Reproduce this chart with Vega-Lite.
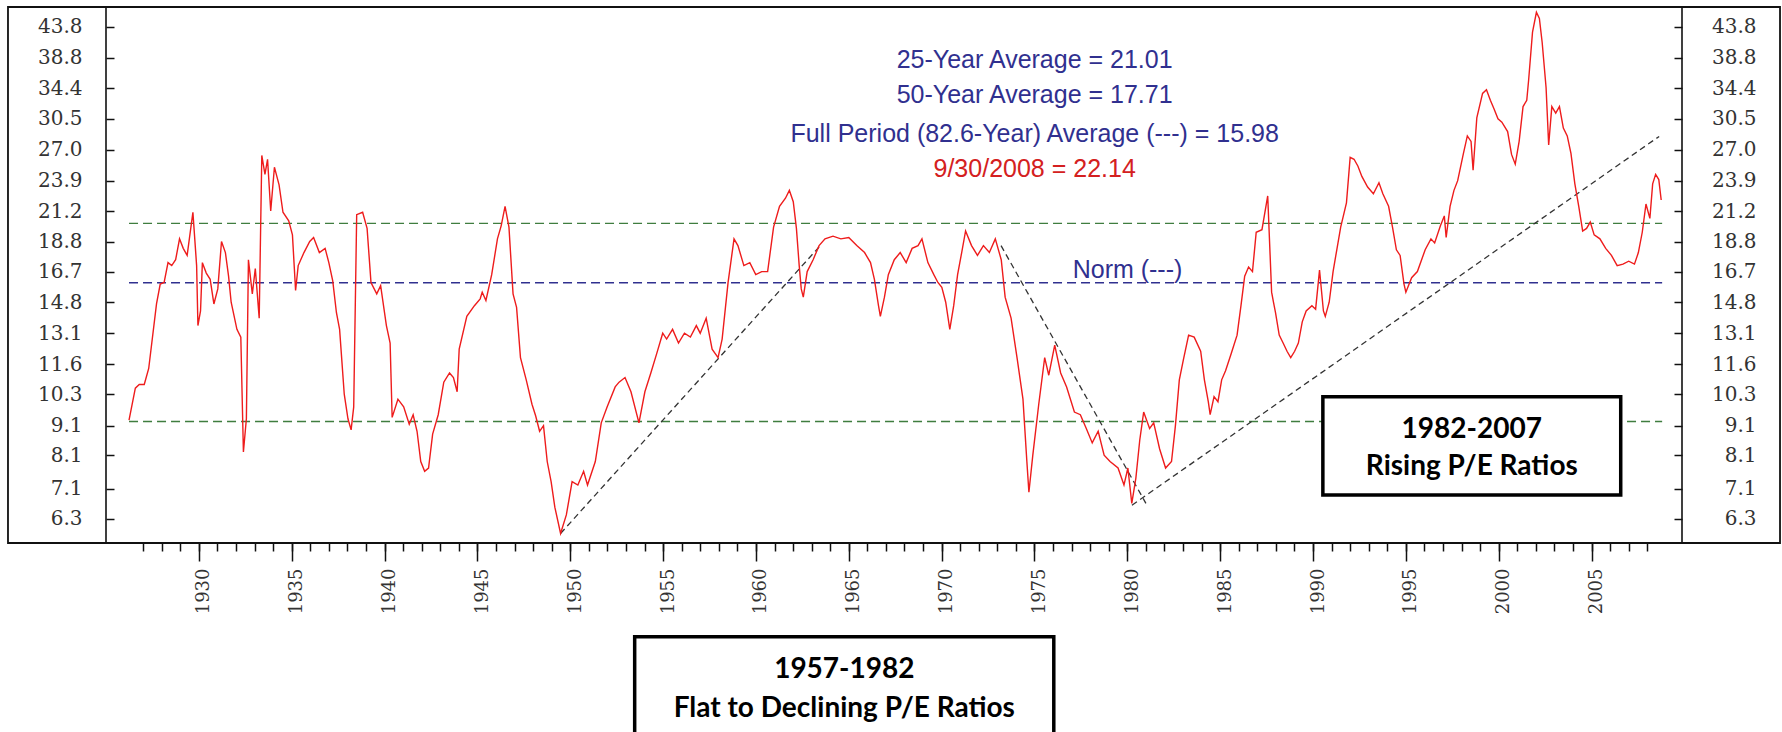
{
  "$schema": "https://vega.github.io/schema/vega-lite/v6.json",
  "width": 1576,
  "height": 536,
  "autosize": "none",
  "padding": {"left": 106, "top": 7, "right": 100, "bottom": 189},
  "background": "white",
  "config": {"view": {"stroke": "#111", "strokeWidth": 1.6}},
  "datasets": {
    "one": [{}],
    "pe": [
      {"year":1926.24,"pe":9.3},{"year":1926.58,"pe":10.55},{"year":1926.79,"pe":10.7},{"year":1927.06,"pe":10.7},{"year":1927.3,"pe":11.4},{"year":1927.72,"pe":14.7},{"year":1927.92,"pe":15.9},{"year":1928.13,"pe":16.0},{"year":1928.34,"pe":17.3},{"year":1928.54,"pe":17.1},{"year":1928.75,"pe":17.5},{"year":1928.96,"pe":19.0},{"year":1929.16,"pe":18.3},{"year":1929.37,"pe":17.8},{"year":1929.68,"pe":21.1},{"year":1929.88,"pe":17.1},{"year":1929.95,"pe":13.5},{"year":1930.09,"pe":14.3},{"year":1930.19,"pe":17.3},{"year":1930.4,"pe":16.6},{"year":1930.61,"pe":16.2},{"year":1930.81,"pe":14.7},{"year":1931.02,"pe":15.6},{"year":1931.22,"pe":18.8},{"year":1931.43,"pe":18.0},{"year":1931.6,"pe":16.4},{"year":1931.74,"pe":14.8},{"year":1932.05,"pe":13.3},{"year":1932.26,"pe":12.9},{"year":1932.4,"pe":8.2},{"year":1932.56,"pe":9.35},{"year":1932.67,"pe":17.5},{"year":1932.88,"pe":15.3},{"year":1933.04,"pe":16.9},{"year":1933.25,"pe":13.9},{"year":1933.39,"pe":26.4},{"year":1933.56,"pe":24.5},{"year":1933.7,"pe":26.0},{"year":1933.87,"pe":21.2},{"year":1934.07,"pe":25.2},{"year":1934.32,"pe":23.5},{"year":1934.53,"pe":21.1},{"year":1934.84,"pe":20.4},{"year":1935.04,"pe":19.3},{"year":1935.21,"pe":15.5},{"year":1935.35,"pe":17.1},{"year":1935.66,"pe":18.0},{"year":1935.97,"pe":18.8},{"year":1936.18,"pe":19.1},{"year":1936.49,"pe":18.0},{"year":1936.8,"pe":18.3},{"year":1937.0,"pe":17.3},{"year":1937.21,"pe":16.1},{"year":1937.41,"pe":14.2},{"year":1937.58,"pe":13.3},{"year":1937.83,"pe":10.3},{"year":1938.03,"pe":9.35},{"year":1938.2,"pe":8.95},{"year":1938.34,"pe":9.8},{"year":1938.5,"pe":20.9},{"year":1938.82,"pe":21.1},{"year":1939.06,"pe":19.8},{"year":1939.27,"pe":16.0},{"year":1939.58,"pe":15.3},{"year":1939.79,"pe":15.8},{"year":1940.1,"pe":13.5},{"year":1940.3,"pe":12.6},{"year":1940.41,"pe":9.4},{"year":1940.72,"pe":10.1},{"year":1941.03,"pe":9.8},{"year":1941.33,"pe":9.15},{"year":1941.54,"pe":9.5},{"year":1941.75,"pe":8.9},{"year":1941.95,"pe":7.9},{"year":1942.16,"pe":7.6},{"year":1942.37,"pe":7.7},{"year":1942.59,"pe":8.8},{"year":1942.89,"pe":9.5},{"year":1943.19,"pe":10.8},{"year":1943.5,"pe":11.2},{"year":1943.71,"pe":11.0},{"year":1943.91,"pe":10.4},{"year":1944.02,"pe":12.3},{"year":1944.43,"pe":14.0},{"year":1944.84,"pe":14.6},{"year":1945.15,"pe":15.0},{"year":1945.26,"pe":15.4},{"year":1945.46,"pe":14.9},{"year":1945.77,"pe":16.5},{"year":1946.08,"pe":19.0},{"year":1946.28,"pe":20.0},{"year":1946.49,"pe":21.6},{"year":1946.7,"pe":19.9},{"year":1946.92,"pe":15.3},{"year":1947.11,"pe":14.5},{"year":1947.32,"pe":11.9},{"year":1947.63,"pe":10.9},{"year":1947.94,"pe":9.9},{"year":1948.14,"pe":9.45},{"year":1948.35,"pe":8.9},{"year":1948.56,"pe":9.1},{"year":1948.76,"pe":7.9},{"year":1948.97,"pe":7.3},{"year":1949.17,"pe":6.6},{"year":1949.48,"pe":5.95},{"year":1949.79,"pe":6.4},{"year":1950.1,"pe":7.3},{"year":1950.41,"pe":7.2},{"year":1950.72,"pe":7.6},{"year":1950.93,"pe":7.2},{"year":1951.35,"pe":7.9},{"year":1951.67,"pe":9.2},{"year":1951.99,"pe":9.8},{"year":1952.42,"pe":10.6},{"year":1952.63,"pe":10.8},{"year":1952.95,"pe":11.0},{"year":1953.27,"pe":10.4},{"year":1953.7,"pe":9.2},{"year":1954.02,"pe":10.4},{"year":1954.34,"pe":11.2},{"year":1954.66,"pe":12.1},{"year":1954.98,"pe":13.1},{"year":1955.19,"pe":12.8},{"year":1955.51,"pe":13.3},{"year":1955.83,"pe":12.6},{"year":1956.15,"pe":13.1},{"year":1956.47,"pe":12.9},{"year":1956.79,"pe":13.5},{"year":1957.0,"pe":13.1},{"year":1957.32,"pe":13.9},{"year":1957.64,"pe":12.3},{"year":1957.96,"pe":11.9},{"year":1958.18,"pe":12.8},{"year":1958.5,"pe":16.0},{"year":1958.82,"pe":19.0},{"year":1959.03,"pe":18.5},{"year":1959.35,"pe":17.1},{"year":1959.67,"pe":17.3},{"year":1959.99,"pe":16.5},{"year":1960.31,"pe":16.7},{"year":1960.63,"pe":16.7},{"year":1960.95,"pe":19.9},{"year":1961.27,"pe":21.6},{"year":1961.59,"pe":22.3},{"year":1961.8,"pe":23.0},{"year":1962.01,"pe":22.0},{"year":1962.18,"pe":19.8},{"year":1962.33,"pe":17.1},{"year":1962.44,"pe":15.6},{"year":1962.55,"pe":15.1},{"year":1962.76,"pe":16.7},{"year":1963.08,"pe":17.5},{"year":1963.4,"pe":18.5},{"year":1963.72,"pe":19.0},{"year":1964.15,"pe":19.2},{"year":1964.57,"pe":19.0},{"year":1965.0,"pe":19.1},{"year":1965.43,"pe":18.5},{"year":1965.85,"pe":18.0},{"year":1966.17,"pe":17.3},{"year":1966.38,"pe":16.2},{"year":1966.6,"pe":14.6},{"year":1966.7,"pe":14.0},{"year":1966.92,"pe":15.1},{"year":1967.13,"pe":16.5},{"year":1967.45,"pe":17.5},{"year":1967.77,"pe":18.0},{"year":1968.09,"pe":17.3},{"year":1968.41,"pe":18.3},{"year":1968.73,"pe":18.5},{"year":1968.94,"pe":19.0},{"year":1969.26,"pe":17.3},{"year":1969.58,"pe":16.5},{"year":1969.8,"pe":16.0},{"year":1970.01,"pe":15.7},{"year":1970.22,"pe":14.8},{"year":1970.44,"pe":13.3},{"year":1970.65,"pe":14.6},{"year":1970.86,"pe":16.5},{"year":1971.08,"pe":18.0},{"year":1971.29,"pe":19.6},{"year":1971.61,"pe":18.5},{"year":1971.93,"pe":17.8},{"year":1972.25,"pe":18.5},{"year":1972.57,"pe":18.0},{"year":1972.89,"pe":19.0},{"year":1973.21,"pe":17.5},{"year":1973.42,"pe":15.1},{"year":1973.74,"pe":13.9},{"year":1974.06,"pe":11.9},{"year":1974.38,"pe":10.1},{"year":1974.59,"pe":7.9},{"year":1974.7,"pe":7.0},{"year":1974.91,"pe":8.1},{"year":1975.23,"pe":9.9},{"year":1975.55,"pe":11.9},{"year":1975.77,"pe":11.1},{"year":1976.09,"pe":12.5},{"year":1976.41,"pe":11.2},{"year":1976.73,"pe":10.6},{"year":1977.15,"pe":9.6},{"year":1977.47,"pe":9.5},{"year":1977.79,"pe":9.0},{"year":1978.11,"pe":8.5},{"year":1978.43,"pe":8.9},{"year":1978.75,"pe":8.1},{"year":1979.07,"pe":7.9},{"year":1979.5,"pe":7.7},{"year":1979.82,"pe":7.2},{"year":1980.03,"pe":7.7},{"year":1980.24,"pe":6.7},{"year":1980.46,"pe":7.4},{"year":1980.67,"pe":8.6},{"year":1980.88,"pe":9.6},{"year":1981.2,"pe":9.0},{"year":1981.42,"pe":9.2},{"year":1981.74,"pe":8.3},{"year":1982.06,"pe":7.7},{"year":1982.38,"pe":7.9},{"year":1982.59,"pe":9.1},{"year":1982.8,"pe":10.9},{"year":1983.02,"pe":11.8},{"year":1983.3,"pe":13.0},{"year":1983.6,"pe":12.9},{"year":1983.95,"pe":12.2},{"year":1984.15,"pe":10.9},{"year":1984.36,"pe":10.0},{"year":1984.46,"pe":9.5},{"year":1984.67,"pe":10.2},{"year":1984.88,"pe":10.0},{"year":1985.08,"pe":10.9},{"year":1985.29,"pe":11.3},{"year":1985.6,"pe":12.1},{"year":1985.91,"pe":13.0},{"year":1986.12,"pe":14.6},{"year":1986.32,"pe":16.4},{"year":1986.53,"pe":17.0},{"year":1986.74,"pe":16.7},{"year":1986.94,"pe":19.5},{"year":1987.25,"pe":19.7},{"year":1987.56,"pe":22.5},{"year":1987.77,"pe":15.4},{"year":1987.87,"pe":14.8},{"year":1987.98,"pe":14.2},{"year":1988.18,"pe":13.0},{"year":1988.39,"pe":12.6},{"year":1988.6,"pe":12.2},{"year":1988.8,"pe":11.9},{"year":1989.01,"pe":12.2},{"year":1989.21,"pe":12.6},{"year":1989.42,"pe":13.7},{"year":1989.63,"pe":14.3},{"year":1989.94,"pe":14.6},{"year":1990.14,"pe":14.4},{"year":1990.35,"pe":16.8},{"year":1990.56,"pe":14.3},{"year":1990.66,"pe":14.0},{"year":1990.87,"pe":14.8},{"year":1991.08,"pe":16.7},{"year":1991.28,"pe":18.2},{"year":1991.49,"pe":19.9},{"year":1991.8,"pe":21.9},{"year":1992.0,"pe":26.2},{"year":1992.21,"pe":26.0},{"year":1992.42,"pe":25.3},{"year":1992.63,"pe":24.3},{"year":1992.94,"pe":23.3},{"year":1993.25,"pe":22.7},{"year":1993.55,"pe":23.7},{"year":1993.76,"pe":22.7},{"year":1994.07,"pe":21.6},{"year":1994.28,"pe":19.9},{"year":1994.49,"pe":18.2},{"year":1994.69,"pe":17.8},{"year":1994.9,"pe":15.9},{"year":1995.0,"pe":15.4},{"year":1995.31,"pe":16.3},{"year":1995.62,"pe":16.7},{"year":1996.04,"pe":18.2},{"year":1996.35,"pe":19.0},{"year":1996.55,"pe":18.7},{"year":1996.86,"pe":20.0},{"year":1997.07,"pe":20.8},{"year":1997.17,"pe":19.1},{"year":1997.38,"pe":21.6},{"year":1997.59,"pe":23.0},{"year":1997.79,"pe":23.9},{"year":1998.1,"pe":26.6},{"year":1998.31,"pe":28.5},{"year":1998.51,"pe":27.9},{"year":1998.62,"pe":24.9},{"year":1998.82,"pe":30.6},{"year":1999.13,"pe":33.7},{"year":1999.34,"pe":34.2},{"year":1999.55,"pe":32.8},{"year":1999.75,"pe":31.7},{"year":1999.96,"pe":30.5},{"year":2000.17,"pe":30.1},{"year":2000.48,"pe":29.0},{"year":2000.69,"pe":26.5},{"year":2000.89,"pe":25.5},{"year":2001.1,"pe":27.9},{"year":2001.31,"pe":32.0},{"year":2001.51,"pe":32.8},{"year":2001.61,"pe":35.5},{"year":2001.82,"pe":42.9},{"year":2002.03,"pe":46.4},{"year":2002.19,"pe":45.3},{"year":2002.34,"pe":41.2},{"year":2002.55,"pe":34.5},{"year":2002.69,"pe":27.5},{"year":2002.86,"pe":32.0},{"year":2003.07,"pe":31.2},{"year":2003.27,"pe":32.0},{"year":2003.48,"pe":29.4},{"year":2003.69,"pe":28.5},{"year":2003.89,"pe":26.6},{"year":2004.1,"pe":23.6},{"year":2004.31,"pe":21.6},{"year":2004.52,"pe":19.6},{"year":2004.73,"pe":19.8},{"year":2004.93,"pe":20.3},{"year":2005.14,"pe":19.3},{"year":2005.45,"pe":19.0},{"year":2005.76,"pe":18.3},{"year":2006.07,"pe":17.8},{"year":2006.38,"pe":17.1},{"year":2006.69,"pe":17.2},{"year":2007.0,"pe":17.4},{"year":2007.31,"pe":17.2},{"year":2007.52,"pe":18.0},{"year":2007.73,"pe":19.5},{"year":2007.93,"pe":21.8},{"year":2008.14,"pe":20.6},{"year":2008.29,"pe":23.6},{"year":2008.45,"pe":24.5},{"year":2008.62,"pe":24.0},{"year":2008.75,"pe":22.14}
    ],
    "trend": [
      {"seg":"a","year":1949.48,"pe":5.95},{"seg":"a","year":1963.4,"pe":18.4},
      {"seg":"b","year":1973.2,"pe":18.5},{"seg":"b","year":1981.0,"pe":6.7},
      {"seg":"c","year":1980.25,"pe":6.65},{"seg":"c","year":2008.64,"pe":28.45}
    ]
  },
  "resolve": {"axis": {"x": "independent", "y": "independent"}},
  "layer": [
    {
      "data": {"name": "one"},
      "mark": {"type": "rect", "fill": null, "stroke": "#111", "strokeWidth": 1.8, "clip": false},
      "encoding": {
        "x": {"datum": 1919.722, "axis": null},
        "x2": {"datum": 2015.148},
        "y": {"datum": 5.73, "axis": null},
        "y2": {"datum": 47.38}
      }
    },
    {
      "data": {"name": "one"},
      "mark": {"type": "rule", "color": "#3f7d3f", "strokeWidth": 1.3, "strokeDash": [9, 5]},
      "encoding": {
        "x": {"datum": 1926.24, "axis": null},
        "x2": {"datum": 2008.8},
        "y": {"datum": 20.2,
              "axis": {"orient": "left", "values": [6.3,7.1,8.1,9.1,10.3,11.6,13.1,14.8,16.7,18.8,21.2,23.9,27.0,30.5,34.4,38.8,43.8],
                       "tickSize": -8, "tickWidth": 1.5, "tickColor": "#111", "labels": false, "domain": false, "grid": false, "title": null}}
      }
    },
    {
      "data": {"name": "one"},
      "mark": {"type": "rule", "color": "#3f7d3f", "strokeWidth": 1.3, "strokeDash": [9, 5]},
      "encoding": {
        "x": {"datum": 1926.24, "axis": null},
        "x2": {"datum": 2008.8},
        "y": {"datum": 9.25,
              "axis": {"orient": "right", "values": [6.3,7.1,8.1,9.1,10.3,11.6,13.1,14.8,16.7,18.8,21.2,23.9,27.0,30.5,34.4,38.8,43.8],
                       "tickSize": -8, "tickWidth": 1.5, "tickColor": "#111", "labels": false, "domain": false, "grid": false, "title": null}}
      }
    },
    {
      "data": {"name": "one"},
      "mark": {"type": "rule", "color": "#30308f", "strokeWidth": 1.3, "strokeDash": [9, 5]},
      "encoding": {
        "x": {"datum": 1926.24, "axis": null},
        "x2": {"datum": 2008.8},
        "y": {"datum": 15.98, "axis": null}
      }
    },
    {
      "data": {"name": "trend"},
      "mark": {"type": "line", "color": "#333", "strokeWidth": 1.3, "strokeDash": [6, 4]},
      "encoding": {
        "x": {"field": "year", "type": "quantitative",
              "scale": {"domain": [1925, 2009.87], "nice": false, "zero": false},
              "axis": {"orient": "bottom", "values": [1927,1928,1929,1930,1931,1932,1933,1934,1935,1936,1937,1938,1939,1940,1941,1942,1943,1944,1945,1946,1947,1948,1949,1950,1951,1952,1953,1954,1955,1956,1957,1958,1959,1960,1961,1962,1963,1964,1965,1966,1967,1968,1969,1970,1971,1972,1973,1974,1975,1976,1977,1978,1979,1980,1981,1982,1983,1984,1985,1986,1987,1988,1989,1990,1991,1992,1993,1994,1995,1996,1997,1998,1999,2000,2001,2002,2003,2004,2005,2006,2007,2008],
                       "tickSize": 8, "tickWidth": 1.5, "tickColor": "#111", "labels": false, "domain": false, "grid": false, "title": null}},
        "y": {"field": "pe", "type": "quantitative",
              "scale": {"type": "log", "domain": [5.73, 47.38], "nice": false, "zero": false},
              "axis": {"orient": "right", "values": [6.3,7.1,8.1,9.1,10.3,11.6,13.1,14.8,16.7,18.8,21.2,23.9,27.0,30.5,34.4,38.8,43.8],
                       "format": ".1f", "ticks": false, "domain": false, "grid": false,
                       "labelFont": "DejaVu Serif", "labelFontSize": 20, "labelColor": "#333", "labelAlign": "right", "labelPadding": 74,
                       "labelOverlap": false, "labelBound": false, "labelFlush": false, "title": null}},
        "detail": {"field": "seg"}
      }
    },
    {
      "data": {"name": "pe"},
      "mark": {"type": "line", "color": "#ee1c1c", "strokeWidth": 1.4},
      "encoding": {
        "x": {"field": "year", "type": "quantitative",
              "scale": {"domain": [1925, 2009.87], "nice": false, "zero": false},
              "axis": {"orient": "bottom", "values": [1930,1935,1940,1945,1950,1955,1960,1965,1970,1975,1980,1985,1990,1995,2000,2005],
                       "format": "d", "tickSize": 18, "tickWidth": 1.5, "tickColor": "#111", "domain": false, "grid": false,
                       "labelAngle": 270, "labelFont": "DejaVu Serif", "labelFontSize": 18, "labelColor": "#333",
                       "labelPadding": 7, "labelOffset": 5, "labelOverlap": false, "labelBound": false, "labelFlush": false, "title": null}},
        "y": {"field": "pe", "type": "quantitative",
              "scale": {"type": "log", "domain": [5.73, 47.38], "nice": false, "zero": false},
              "axis": {"orient": "left", "values": [6.3,7.1,8.1,9.1,10.3,11.6,13.1,14.8,16.7,18.8,21.2,23.9,27.0,30.5,34.4,38.8,43.8],
                       "format": ".1f", "ticks": false, "domain": false, "grid": false,
                       "labelFont": "DejaVu Serif", "labelFontSize": 20, "labelColor": "#333", "labelAlign": "right", "labelPadding": 24,
                       "labelOverlap": false, "labelBound": false, "labelFlush": false, "title": null}}
      }
    },
    {
      "data": {"name": "one"},
      "mark": {"type": "text", "text": "25-Year Average = 21.01", "font": "Liberation Sans", "fontSize": 25, "color": "#30308f", "align": "center", "baseline": "alphabetic"},
      "encoding": {"x": {"datum": 1975.01, "axis": null}, "y": {"datum": 37.21, "axis": null}}
    },
    {
      "data": {"name": "one"},
      "mark": {"type": "text", "text": "50-Year Average = 17.71", "font": "Liberation Sans", "fontSize": 25, "color": "#30308f", "align": "center", "baseline": "alphabetic"},
      "encoding": {"x": {"datum": 1975.01, "axis": null}, "y": {"datum": 32.41, "axis": null}}
    },
    {
      "data": {"name": "one"},
      "mark": {"type": "text", "text": "Full Period (82.6-Year) Average (---) = 15.98", "font": "Liberation Sans", "fontSize": 25, "color": "#30308f", "align": "center", "baseline": "alphabetic"},
      "encoding": {"x": {"datum": 1975.01, "axis": null}, "y": {"datum": 27.87, "axis": null}}
    },
    {
      "data": {"name": "one"},
      "mark": {"type": "text", "text": "9/30/2008 = 22.14", "font": "Liberation Sans", "fontSize": 25, "color": "#d42020", "align": "center", "baseline": "alphabetic"},
      "encoding": {"x": {"datum": 1975.01, "axis": null}, "y": {"datum": 24.27, "axis": null}}
    },
    {
      "data": {"name": "one"},
      "mark": {"type": "text", "text": "Norm (---)", "font": "Liberation Sans", "fontSize": 25, "color": "#30308f", "align": "center", "baseline": "alphabetic"},
      "encoding": {"x": {"datum": 1980.01, "axis": null}, "y": {"datum": 16.26, "axis": null}}
    },
    {
      "data": {"name": "one"},
      "mark": {"type": "rect", "fill": "white", "stroke": "black", "strokeWidth": 3.5, "clip": false},
      "encoding": {
        "x": {"datum": 1990.53, "axis": null},
        "x2": {"datum": 2006.57},
        "y": {"datum": 6.92, "axis": null},
        "y2": {"datum": 10.2}
      }
    },
    {
      "data": {"name": "one"},
      "mark": {"type": "text", "text": "1982-2007", "font": "Lato", "fontWeight": "bold", "fontSize": 28, "color": "black", "align": "center", "baseline": "alphabetic"},
      "encoding": {"x": {"datum": 1998.55, "axis": null}, "y": {"datum": 8.656, "axis": null}}
    },
    {
      "data": {"name": "one"},
      "mark": {"type": "text", "text": "Rising P/E Ratios", "font": "Lato", "fontWeight": "bold", "fontSize": 28, "color": "black", "align": "center", "baseline": "alphabetic"},
      "encoding": {"x": {"datum": 1998.55, "axis": null}, "y": {"datum": 7.49, "axis": null}}
    },
    {
      "data": {"name": "one"},
      "mark": {"type": "rect", "fill": "white", "stroke": "black", "strokeWidth": 3.5, "clip": false},
      "encoding": {
        "x": {"datum": 1953.47, "axis": null},
        "x2": {"datum": 1976.04},
        "y": {"datum": 2.5, "axis": null},
        "y2": {"datum": 3.96}
      }
    },
    {
      "data": {"name": "one"},
      "mark": {"type": "text", "text": "1957-1982", "font": "Lato", "fontWeight": "bold", "fontSize": 28, "color": "black", "align": "center", "baseline": "alphabetic"},
      "encoding": {"x": {"datum": 1964.76, "axis": null}, "y": {"datum": 3.361, "axis": null}}
    },
    {
      "data": {"name": "one"},
      "mark": {"type": "text", "text": "Flat to Declining P/E Ratios", "font": "Lato", "fontWeight": "bold", "fontSize": 28, "color": "black", "align": "center", "baseline": "alphabetic"},
      "encoding": {"x": {"datum": 1964.76, "axis": null}, "y": {"datum": 2.889, "axis": null}}
    }
  ]
}
